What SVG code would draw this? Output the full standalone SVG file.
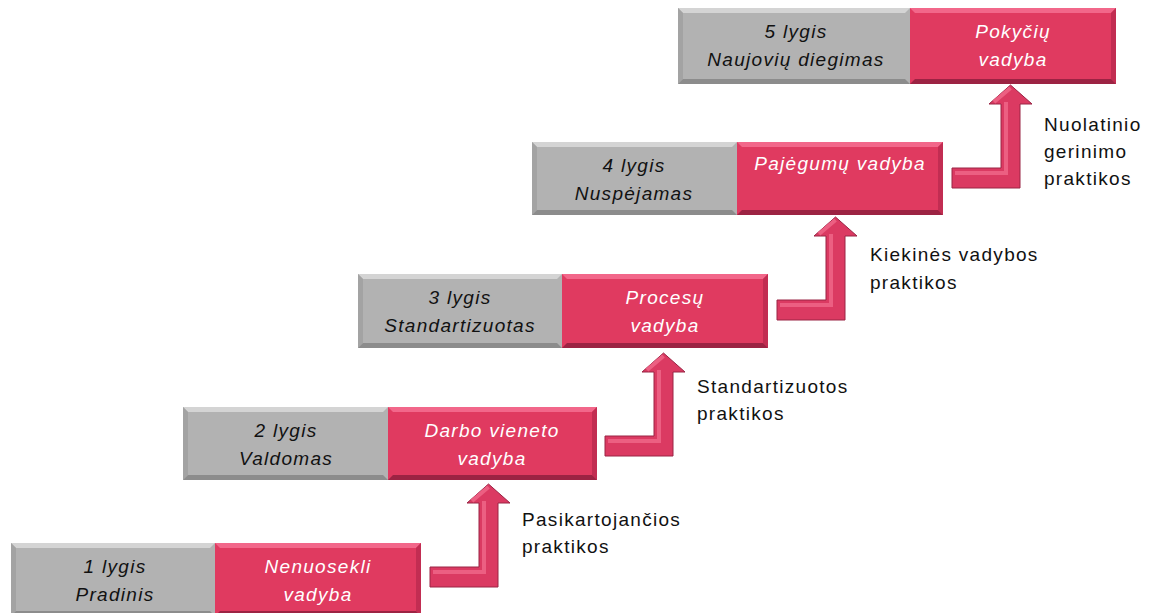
<svg xmlns="http://www.w3.org/2000/svg" width="1150" height="613" viewBox="0 0 1150 613">
<style>
.gray{fill:#b2b2b2}
.pink{fill:#e03a60}
.gtop{fill:#d4d4d4}
.gbot{fill:#8c8c8c}
.gside{fill:#a3a3a3}
.ptop{fill:#f2678a}
.pbot{fill:#9c2343}
.pside{fill:#c22d52}
.bt{font-family:"Liberation Sans",Arial,sans-serif;font-style:italic;font-size:19px;letter-spacing:1.3px;text-anchor:middle}
.bk{fill:#111}
.wh{fill:#fff}
.lb{font-family:"Liberation Sans",Arial,sans-serif;font-size:19px;letter-spacing:1.3px;fill:#111}
.arr{fill:#db3a62;stroke:#9a2445;stroke-width:1}
.arrhi{fill:none;stroke:#ec5f82;stroke-width:4;stroke-linejoin:miter}
</style>
<defs>
<path id="arrowShape" d="M0,0 H49 V-64 H37 L58.5,-83 L80,-64 H68 V20 H0 Z"/>
<path id="arrowHi" d="M3,5 H54 V-66 M42,-66 L58.5,-80"/>
</defs>

<g id="connectors">
<g transform="translate(430,567)"><use href="#arrowShape" class="arr"/><use href="#arrowHi" class="arrhi"/></g>
<g transform="translate(605,436)"><use href="#arrowShape" class="arr"/><use href="#arrowHi" class="arrhi"/></g>
<g transform="translate(777,300)"><use href="#arrowShape" class="arr"/><use href="#arrowHi" class="arrhi"/></g>
<g transform="translate(952,168)"><use href="#arrowShape" class="arr"/><use href="#arrowHi" class="arrhi"/></g>
</g>

<g id="level1">
<rect class="gray" x="11" y="543" width="204" height="73"/>
<polygon class="gtop" points="11,543 215,543 210,548 16,548"/>
<polygon class="gside" points="11,543 16,548 16,611 11,616"/>
<polygon class="gbot" points="11,616 16,611 210,611 215,616"/>
<rect class="pink" x="215" y="543" width="206" height="73"/>
<polygon class="ptop" points="215,543 421,543 416,548 220,548"/>
<polygon class="pside" points="421,543 416,548 416,611 421,616"/>
<polygon class="pbot" points="215,616 220,611 416,611 421,616"/>
<text class="bt bk" x="115" y="573">1 lygis</text>
<text class="bt bk" x="115" y="601">Pradinis</text>
<text class="bt wh" x="318" y="573">Nenuosekli</text>
<text class="bt wh" x="318" y="601">vadyba</text>
</g>

<g id="level2">
<rect class="gray" x="183" y="407" width="205" height="73"/>
<polygon class="gtop" points="183,407 388,407 383,412 188,412"/>
<polygon class="gside" points="183,407 188,412 188,475 183,480"/>
<polygon class="gbot" points="183,480 188,475 383,475 388,480"/>
<rect class="pink" x="388" y="407" width="209" height="73"/>
<polygon class="ptop" points="388,407 597,407 592,412 393,412"/>
<polygon class="pside" points="597,407 592,412 592,475 597,480"/>
<polygon class="pbot" points="388,480 393,475 592,475 597,480"/>
<text class="bt bk" x="286" y="437">2 lygis</text>
<text class="bt bk" x="286" y="465">Valdomas</text>
<text class="bt wh" x="492" y="437">Darbo vieneto</text>
<text class="bt wh" x="492" y="465">vadyba</text>
</g>

<g id="level3">
<rect class="gray" x="358" y="274" width="204" height="74"/>
<polygon class="gtop" points="358,274 562,274 557,279 363,279"/>
<polygon class="gside" points="358,274 363,279 363,343 358,348"/>
<polygon class="gbot" points="358,348 363,343 557,343 562,348"/>
<rect class="pink" x="562" y="274" width="206" height="74"/>
<polygon class="ptop" points="562,274 768,274 763,279 567,279"/>
<polygon class="pside" points="768,274 763,279 763,343 768,348"/>
<polygon class="pbot" points="562,348 567,343 763,343 768,348"/>
<text class="bt bk" x="460" y="304">3 lygis</text>
<text class="bt bk" x="460" y="332">Standartizuotas</text>
<text class="bt wh" x="665" y="304">Procesų</text>
<text class="bt wh" x="665" y="332">vadyba</text>
</g>

<g id="level4">
<rect class="gray" x="532" y="142" width="205" height="73"/>
<polygon class="gtop" points="532,142 737,142 732,147 537,147"/>
<polygon class="gside" points="532,142 537,147 537,210 532,215"/>
<polygon class="gbot" points="532,215 537,210 732,210 737,215"/>
<rect class="pink" x="737" y="142" width="206" height="73"/>
<polygon class="ptop" points="737,142 943,142 938,147 742,147"/>
<polygon class="pside" points="943,142 938,147 938,210 943,215"/>
<polygon class="pbot" points="737,215 742,210 938,210 943,215"/>
<text class="bt bk" x="634" y="172">4 lygis</text>
<text class="bt bk" x="634" y="200">Nuspėjamas</text>
<text class="bt wh" x="840" y="170">Pajėgumų vadyba</text>
</g>

<g id="level5">
<rect class="gray" x="678" y="8" width="232" height="76"/>
<polygon class="gtop" points="678,8 910,8 905,13 683,13"/>
<polygon class="gside" points="678,8 683,13 683,79 678,84"/>
<polygon class="gbot" points="678,84 683,79 905,79 910,84"/>
<rect class="pink" x="910" y="8" width="206" height="76"/>
<polygon class="ptop" points="910,8 1116,8 1111,13 915,13"/>
<polygon class="pside" points="1116,8 1111,13 1111,79 1116,84"/>
<polygon class="pbot" points="910,84 915,79 1111,79 1116,84"/>
<text class="bt bk" x="796" y="38">5 lygis</text>
<text class="bt bk" x="796" y="66">Naujovių diegimas</text>
<text class="bt wh" x="1013" y="38">Pokyčių</text>
<text class="bt wh" x="1013" y="66">vadyba</text>
</g>

<g id="labels">
<text class="lb" x="522" y="526">Pasikartojančios</text>
<text class="lb" x="522" y="553">praktikos</text>
<text class="lb" x="697" y="393">Standartizuotos</text>
<text class="lb" x="697" y="420">praktikos</text>
<text class="lb" x="870" y="261">Kiekinės vadybos</text>
<text class="lb" x="870" y="289">praktikos</text>
<text class="lb" x="1044" y="131">Nuolatinio</text>
<text class="lb" x="1044" y="158">gerinimo</text>
<text class="lb" x="1044" y="185">praktikos</text>
</g>
</svg>
